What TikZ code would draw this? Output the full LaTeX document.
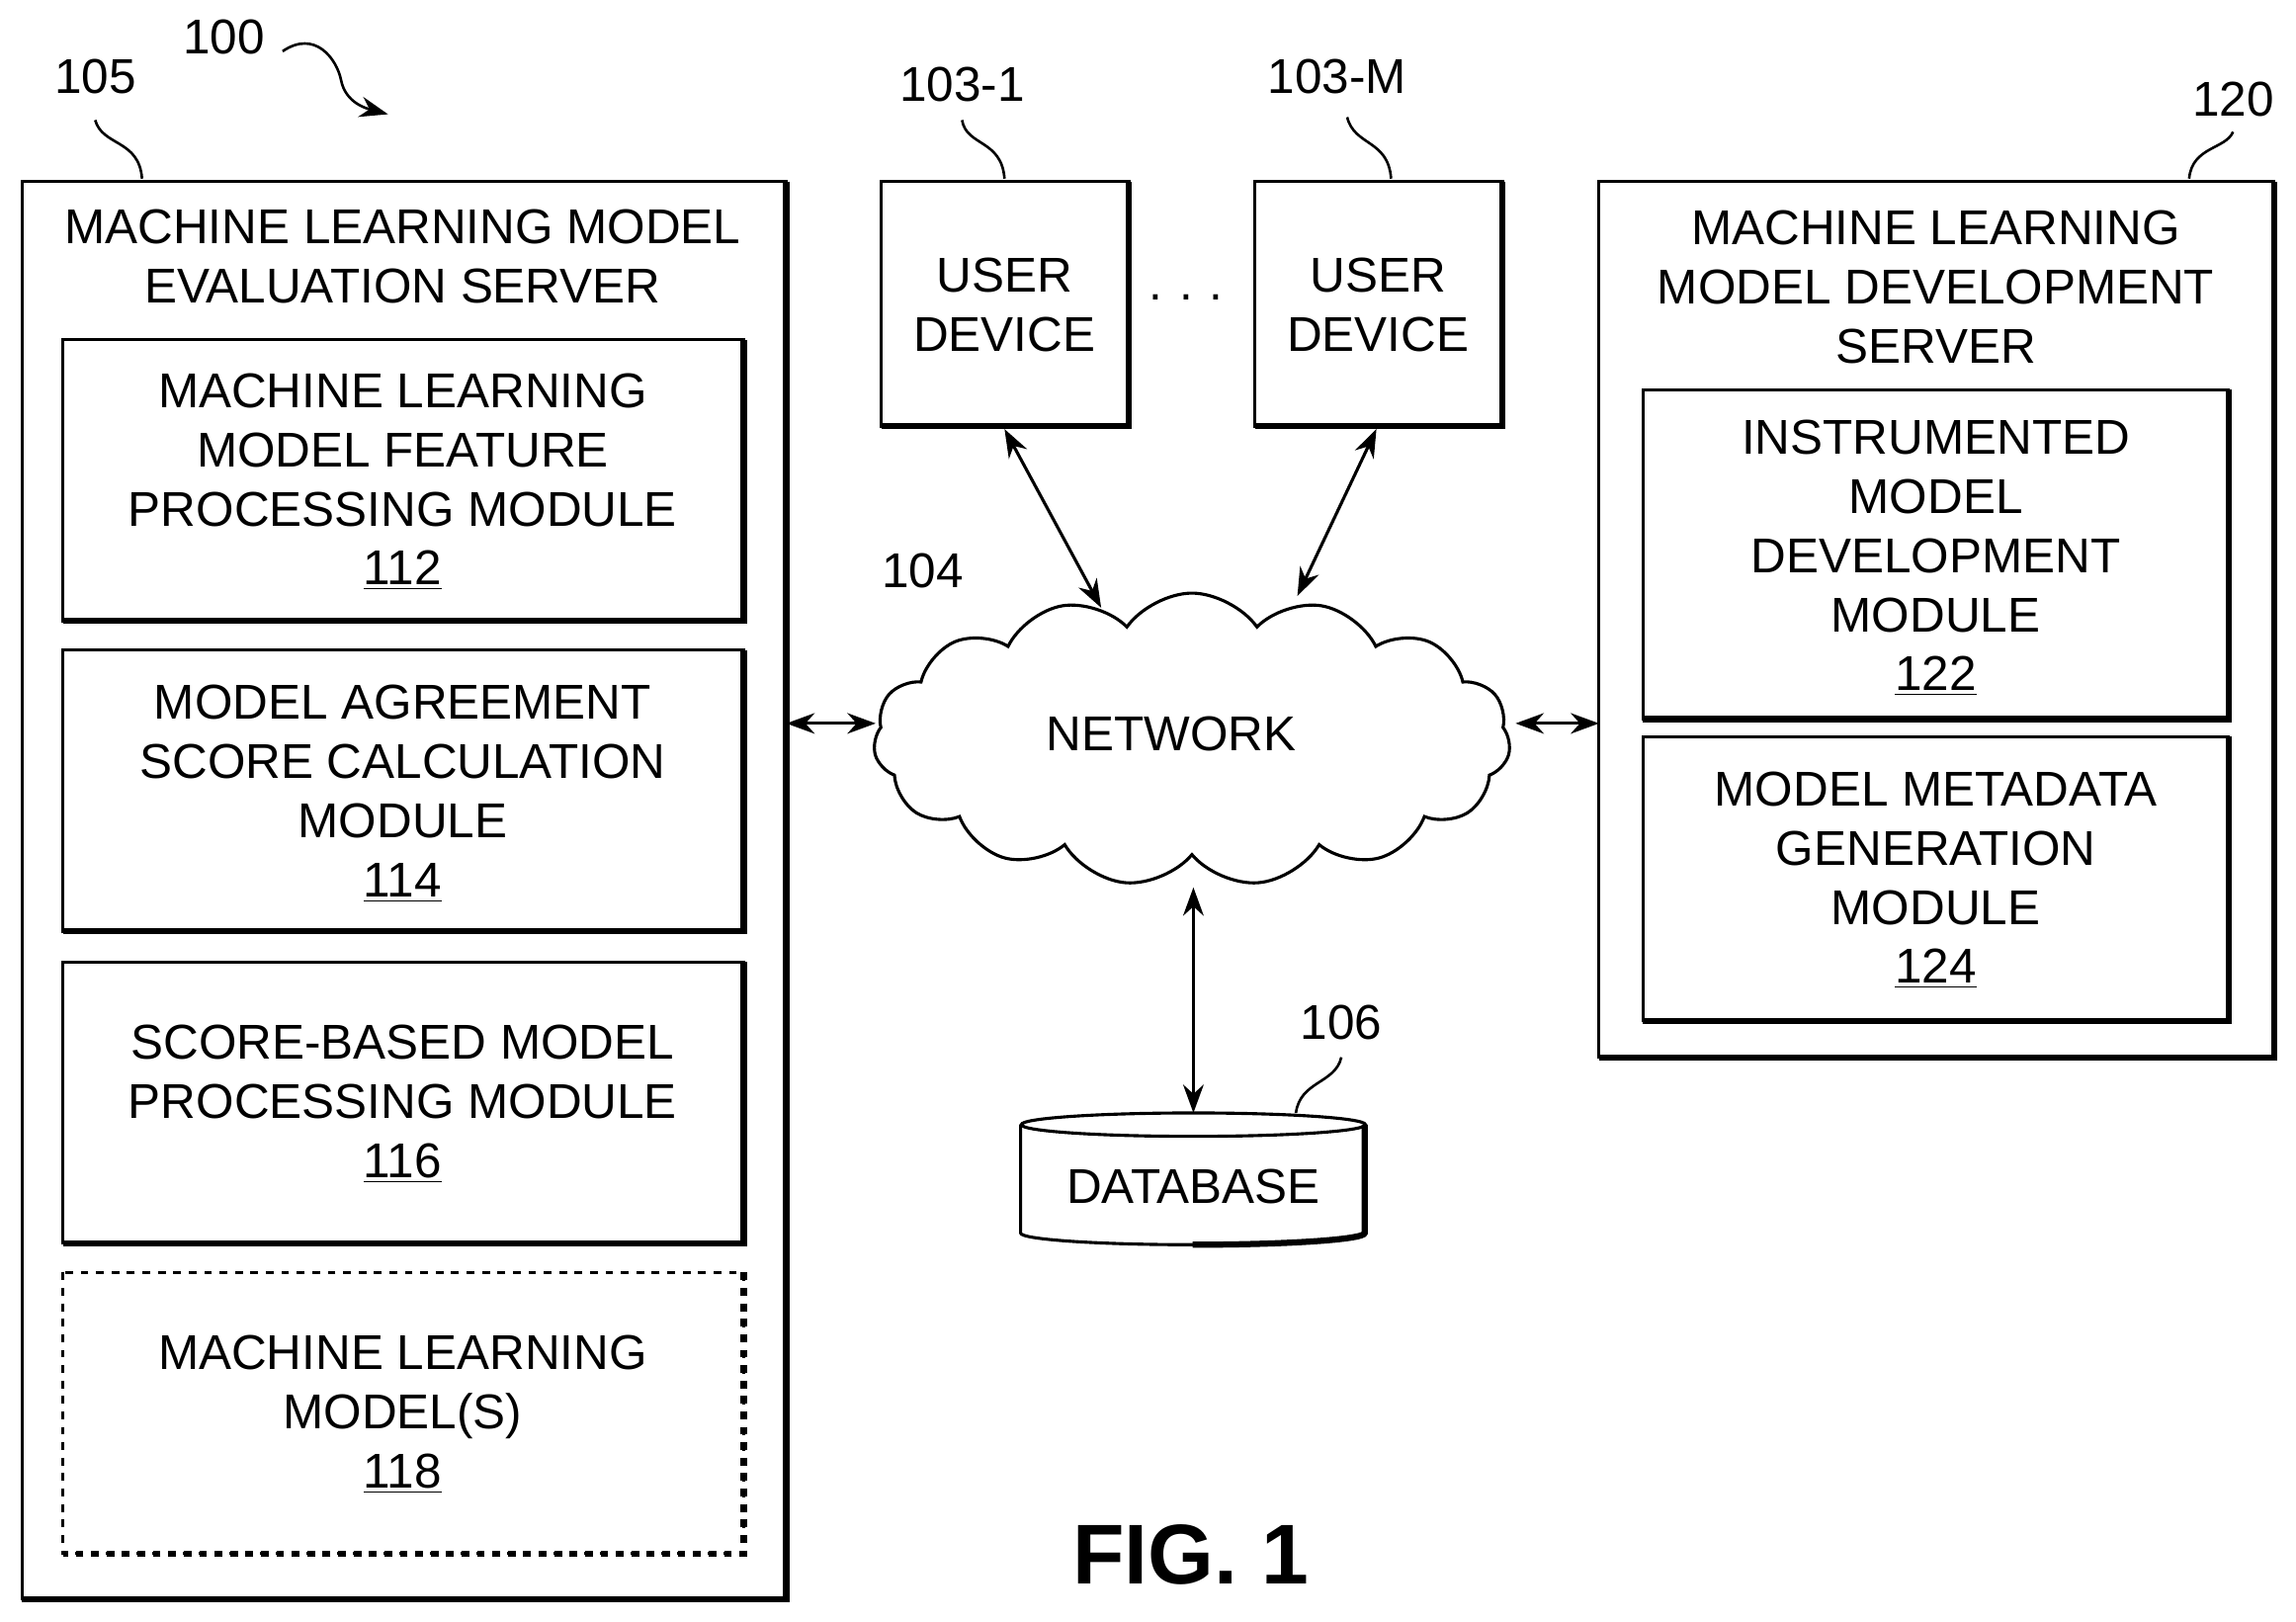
\documentclass[tikz,border=0pt]{standalone}
\usepackage{fontspec}
\setmainfont{Liberation Sans}
\usetikzlibrary{shapes.symbols,shapes.geometric,arrows.meta}
\begin{document}
\begin{tikzpicture}[x=0.02cm,y=-0.02cm,
  txt/.style={font=\fontsize{19}{23}\selectfont,align=center,inner sep=0},
  box/.style={draw,line width=1.2pt},
  sh/.style={line width=2.4pt},
  con/.style={line width=1.2pt,{Stealth[length=11pt,width=8pt]}-{Stealth[length=11pt,width=8pt]}},
  lead/.style={line width=1pt}]
\useasboundingbox (0,0) rectangle (1568,1107);
\fill[white] (0,0) rectangle (1568,1107);
% left server
\draw[box] (15,124) rectangle (537,1092);
\draw[sh] (537,124)--(537,1092)--(15,1092);
\node[txt] (t105) at (275,175) {MACHINE LEARNING MODEL\\EVALUATION SERVER};
\foreach \y/\h in {232/424,444/636,657/849}{
  \draw[box] (43,\y) rectangle (508,\h);
  \draw[sh] (508,\y)--(508,\h)--(43,\h);}
\draw[box,dashed] (43,869) rectangle (508,1061);
\draw[sh,dashed] (508,869)--(508,1061)--(43,1061);
\node[txt] (m112) at (275,329) {MACHINE LEARNING\\MODEL FEATURE\\PROCESSING MODULE\\\underline{112}};
\node[txt] (m114) at (275,542) {MODEL AGREEMENT\\SCORE CALCULATION\\MODULE\\\underline{114}};
\node[txt] (m116) at (275,754) {SCORE-BASED MODEL\\PROCESSING MODULE\\\underline{116}};
\node[txt] (m118) at (275,966) {MACHINE LEARNING\\MODEL(S)\\\underline{118}};
% user devices
\draw[box] (602,124) rectangle (771,291); \draw[sh] (771,124)--(771,291)--(602,291);
\draw[box] (857,124) rectangle (1026,291); \draw[sh] (1026,124)--(1026,291)--(857,291);
\node[txt] (u1) at (686,208) {USER\\DEVICE};
\node[txt] (um) at (941,208) {USER\\DEVICE};
\node[txt] (dots) at (810,203) {.\,\,.\,\,.};
% right server
\draw[box] (1092,124) rectangle (1553,722); \draw[sh] (1553,124)--(1553,722)--(1092,722);
\node[txt] (t120) at (1322,196) {MACHINE LEARNING\\MODEL DEVELOPMENT\\SERVER};
\draw[box] (1122,266) rectangle (1522,491); \draw[sh] (1522,266)--(1522,491)--(1122,491);
\draw[box] (1122,503) rectangle (1522,697); \draw[sh] (1522,503)--(1522,697)--(1122,697);
\node[txt] (m122) at (1322,381) {INSTRUMENTED\\MODEL\\DEVELOPMENT\\MODULE\\\underline{122}};
\node[txt] (m124) at (1322,601) {MODEL METADATA\\GENERATION\\MODULE\\\underline{124}};
% cloud
\node[cloud,draw,line width=1.2pt,cloud puffs=15,cloud puff arc=110,aspect=2.3,minimum width=8.7cm,minimum height=4cm] (net) at (814,505) {};
\node[txt] at (800,501) {NETWORK};
% database
\coordinate (dbtop) at (815,760);
\draw[line width=1.2pt] (697,768) -- (697,842) arc[start angle=180,end angle=0,x radius=117.5,y radius=8] -- (932,768);
\draw[line width=2.4pt] (932,768)--(932,842) arc[start angle=0,end angle=90,x radius=117.5,y radius=8];
\draw[line width=1.2pt] (815,768) ellipse[x radius=117.5,y radius=8];
\node[txt] (db) at (815,810) {DATABASE};
% connectors
\coordinate (l1) at (537,494); \coordinate (c1) at (598,494);
\coordinate (c2) at (1035,494); \coordinate (r1) at (1092,494);
\coordinate (a1) at (686,293); \coordinate (a2) at (752,415);
\coordinate (b1) at (940,293); \coordinate (b2) at (886,407);
\coordinate (d1) at (815,606);
\draw[con] (l1)--(c1);
\draw[con] (c2)--(r1);
\draw[con] (a1)--(a2);
\draw[con] (b1)--(b2);
\draw[con] (d1)--(dbtop);
% labels
\node[txt] (n100) at (153,25) {100};
\node[txt] (n105) at (65,52) {105};
\node[txt] (n1031) at (657,58) {103-1};
\node[txt] (n103m) at (913,52) {103-M};
\node[txt] (n120) at (1525,68) {120};
\node[txt] (n104) at (630,390) {104};
\node[txt] (n106) at (916,698) {106};
\coordinate (p100) at (265,78);
\draw[lead,-{Stealth[length=11pt,width=8pt]}] (193,35) .. controls (215,20) and (230,40) .. (233,55) .. controls (236,70) and (250,74) .. (p100);
\draw[lead] (65,82) .. controls (70,100) and (95,95) .. (97,122);
\draw[lead] (657,82) .. controls (660,100) and (684,95) .. (686,122);
\draw[lead] (920,80) .. controls (925,100) and (948,95) .. (950,122);
\draw[lead] (1525,90) .. controls (1520,102) and (1497,100) .. (1495,122);
\draw[lead] (916,722) .. controls (912,740) and (888,738) .. (885,760);
\node[font=\fontsize{33}{38}\selectfont\bfseries,inner sep=0] (fig) at (813,1062) {FIG. 1};
\end{tikzpicture}
\end{document}
